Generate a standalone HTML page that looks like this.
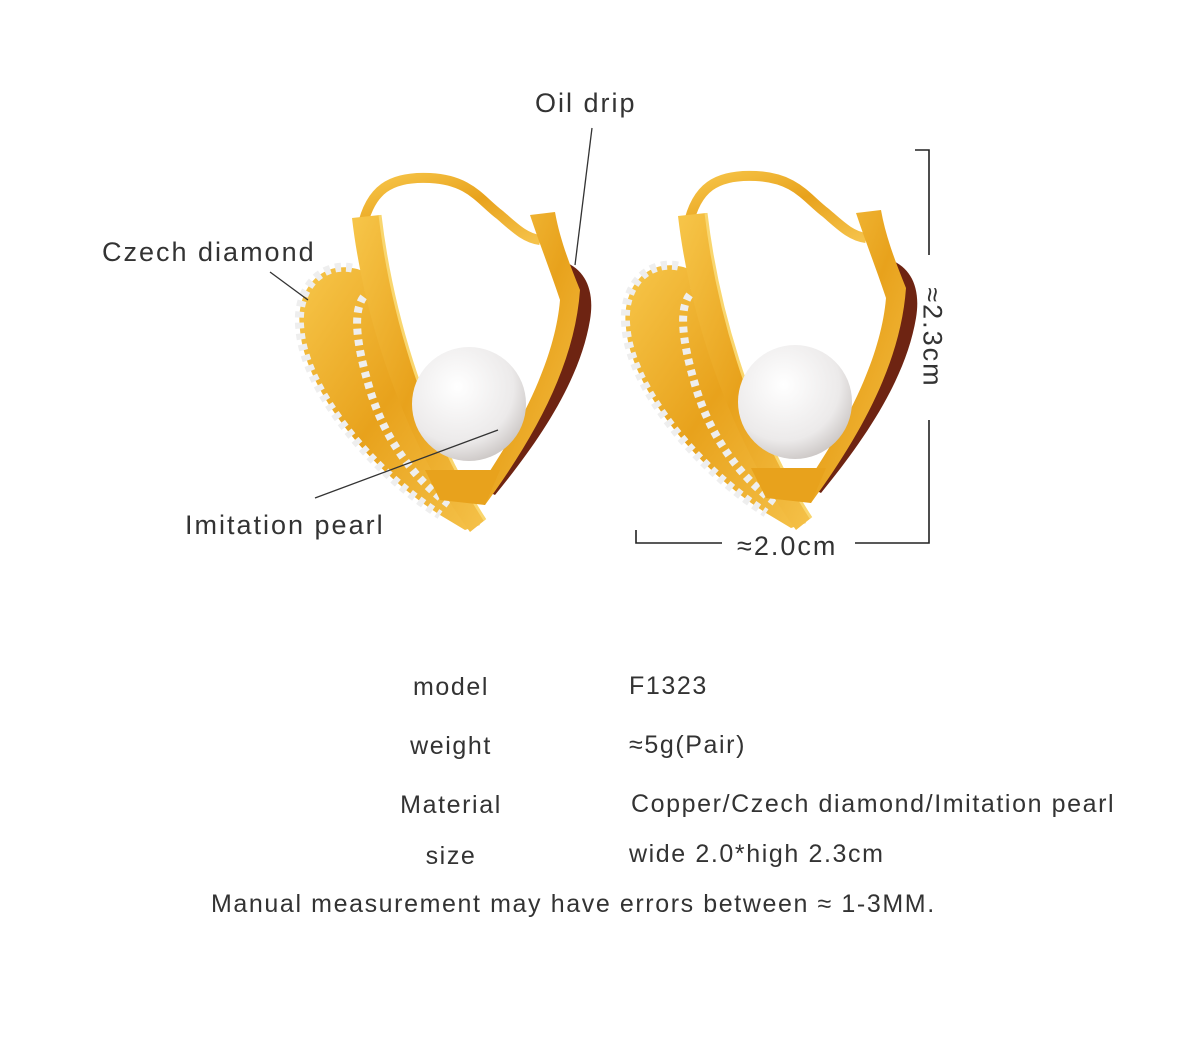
<!DOCTYPE html>
<html><head><meta charset="utf-8"><style>
html,body{margin:0;padding:0;background:#fff;}
body{width:1200px;height:1044px;position:relative;overflow:hidden;font-family:"Liberation Sans","DejaVu Sans",sans-serif;color:#333;}
.t{position:absolute;font-size:25px;letter-spacing:1.6px;white-space:nowrap;line-height:1;}
.l{width:200px;text-align:center;left:351px;}
.b{font-size:27px;letter-spacing:2px;}
</style></head><body>
<svg width="1200" height="1044" style="position:absolute;left:0;top:0">
<defs>
<linearGradient id="g" x1="0" y1="0" x2="1" y2="1">
<stop offset="0" stop-color="#f7c64a"/><stop offset="0.5" stop-color="#e8a21c"/><stop offset="1" stop-color="#f5c24a"/></linearGradient>
<radialGradient id="p" cx="0.4" cy="0.35" r="0.7"><stop offset="0" stop-color="#fff"/><stop offset="0.7" stop-color="#eceaea"/><stop offset="1" stop-color="#c9c4c2"/></radialGradient>
<g id="ear">
<path d="M362,228 C370,190 390,176 430,178 C470,180 480,200 500,215 C515,228 525,238 540,240" fill="none" stroke="url(#g)" stroke-width="10"/>
<path d="M565,262 C585,270 595,290 590,320 C580,380 540,440 495,495 L485,490 C530,430 570,370 575,300 Z" fill="#6e2412"/>
<path d="M530,215 L555,212 C560,240 570,265 580,290 C575,360 540,430 485,505 L470,500 C520,430 555,360 560,300 C550,270 540,245 530,215 Z" fill="url(#g)"/>
<path d="M352,268 C320,262 295,290 300,330 C305,390 370,470 440,515 L465,530 L480,525 C430,470 385,380 378,300 C376,280 368,270 352,268 Z" fill="url(#g)"/>
<path d="M352,268 C320,262 295,290 300,330 C305,390 370,470 440,515" fill="none" stroke="#eee" stroke-width="9" stroke-dasharray="6 5"/>
<path d="M372,290 C350,300 355,340 370,390 C385,440 415,480 450,505" fill="none" stroke="#eee" stroke-width="8" stroke-dasharray="6 5"/>
<path d="M352,218 L380,215 C390,300 420,420 485,520 L470,532 C410,450 365,330 352,218 Z" fill="url(#g)"/>
<path d="M380,215 C390,300 420,420 485,520" fill="none" stroke="#f9d66e" stroke-width="3"/>
<circle cx="469" cy="404" r="57" fill="url(#p)"/>
<path d="M425,470 L500,470 L485,505 L440,500 Z" fill="#e8a21c"/>
</g>
</defs>
<use href="#ear"/>
<use href="#ear" transform="translate(326,-2)"/>
<g stroke="#333" stroke-width="1.3" fill="none">
<line x1="592" y1="128" x2="575" y2="265"/>
<line x1="270" y1="272" x2="308" y2="300"/>
<line x1="315" y1="498" x2="498" y2="430"/>
</g>
<g stroke="#222" stroke-width="1.6" fill="none">
<polyline points="915,150 929,150 929,255"/>
<polyline points="929,420 929,543 855,543"/>
<polyline points="636,530 636,543 722,543"/>
</g>
</svg>
<div class="t b" style="left:535px;top:90px">Oil drip</div>
<div class="t b" style="left:102px;top:239px">Czech diamond</div>
<div class="t b" style="left:185px;top:512px">Imitation pearl</div>
<div class="t b" style="left:737px;top:533px">≈2.0cm</div>
<div class="t b" style="left:882px;top:324px;transform:rotate(90deg);transform-origin:center">≈2.3cm</div>
<div class="t l" style="top:675px">model</div>
<div class="t l" style="top:734px">weight</div>
<div class="t l" style="top:793px">Material</div>
<div class="t l" style="top:844px">size</div>
<div class="t" style="left:629px;top:674px">F1323</div>
<div class="t" style="left:629px;top:733px">≈5g(Pair)</div>
<div class="t" style="left:631px;top:792px">Copper/Czech diamond/Imitation pearl</div>
<div class="t" style="left:629px;top:842px">wide 2.0*high 2.3cm</div>
<div class="t" style="left:211px;top:892px">Manual measurement may have errors between ≈ 1-3MM.</div>
</body></html>
